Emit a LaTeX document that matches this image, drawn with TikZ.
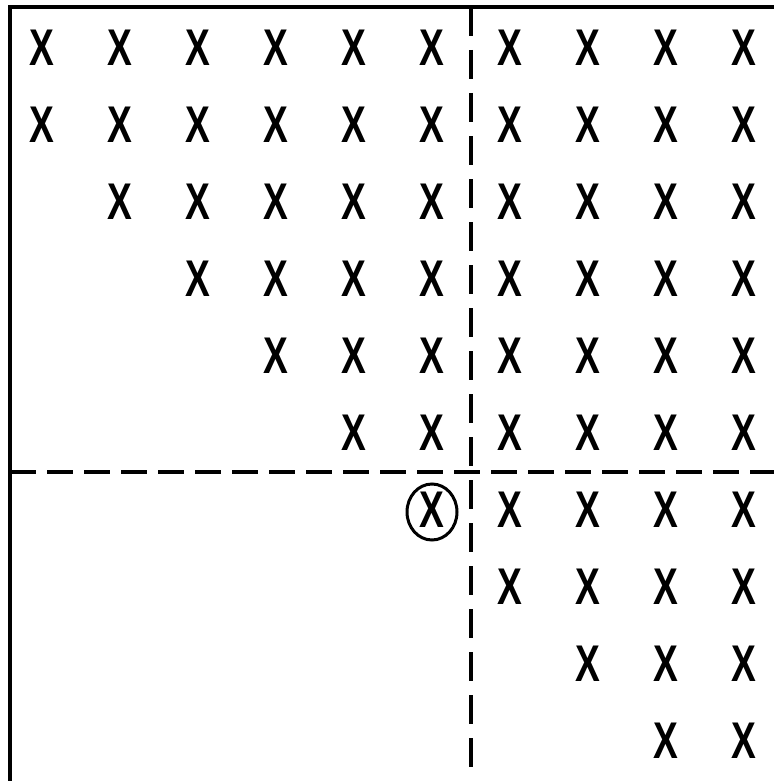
\documentclass[tikz,border=0pt]{standalone}
\usepackage{fontspec}
\setmainfont{Liberation Sans}
\usetikzlibrary{shapes.geometric}

\tikzset{
  xsign/.style={inner sep=0pt, font=\fontsize{25.8}{30}\selectfont\bfseries},
  frameline/.style={line width=1.9pt},
  splitv/.style={line width=1.6pt, dash pattern=on 14.5pt off 7pt},
  splith/.style={line width=1.6pt, dash pattern=on 13pt off 5.5pt},
  ring/.style={draw, ellipse, line width=1.5pt, inner sep=0pt,
    minimum width=25pt, minimum height=28pt},
}
\newcommand{\crossmark}{\scalebox{0.72}[1]{X}}

\begin{document}
\begin{tikzpicture}[x=0.5pt,y=-0.5pt]
  \useasboundingbox (0,0) rectangle (774,781);
  % frame (open to the right and bottom)
  \draw[frameline] (10,781) -- (10,7) -- (774,7);
  % dashed partition
  \coordinate (vtop) at (471,7);
  \coordinate (vbot) at (471,781);
  \coordinate (hleft) at (10,472);
  \coordinate (hright) at (774,472);
  \draw[splitv] (vtop) -- (vbot);
  \draw[splith] (hleft) -- (hright);
  % staircase of crosses
  \foreach \r in {1,...,10} {
    \pgfmathtruncatemacro{\first}{max(1,\r-1)}
    \foreach \c in {\first,...,10}
      \node[xsign] (x-\r-\c) at ({42+78*(\c-1)},{48+77*(\r-1)}) {\crossmark};
  }
  % the marked one
  \node[ring] (mark) at ([yshift=-1pt]x-7-6) {};
\end{tikzpicture}
\end{document}
